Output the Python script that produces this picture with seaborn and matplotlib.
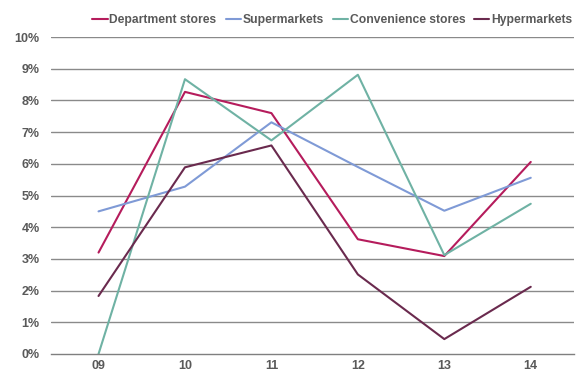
import matplotlib
matplotlib.use("Agg")
import matplotlib.pyplot as plt
import seaborn as sns
import pandas as pd
import numpy as np

# values (percent)
years = ["09", "10", "11", "12", "13", "14"]
department = [3.2, 8.27, 7.6, 3.62, 3.09, 6.06]
supermarkets = [4.5, 5.28, 7.31, 5.9, 4.52, 5.56]
convenience = [0.0, 8.67, 6.74, 8.81, 3.12, 4.74]
hypermarkets = [1.83, 5.89, 6.58, 2.51, 0.47, 2.12]

series_names = ["Department stores", "Supermarkets", "Convenience stores", "Hypermarkets"]
colors = ["#B51C5C", "#7F9AD6", "#6FB2A4", "#6A2A4E"]

rows = []
for name, vals in zip(series_names, [department, supermarkets, convenience, hypermarkets]):
    for i, v in enumerate(vals):
        rows.append({"x": i, "value": v, "series": name})
df = pd.DataFrame(rows)

sns.set_style("white")
plt.rcParams["font.family"] = ["Liberation Sans", "DejaVu Sans"]

fig = plt.figure(figsize=(5.76, 3.72), dpi=100)
ax = fig.add_axes([0.0885, 0.0484, 0.908, 0.852])

# grid lines first, behind the data
for y in range(1, 11):
    ax.axhline(y, color="#8a8a8a", lw=1.0, zorder=0)

sns.lineplot(data=df, x="x", y="value", hue="series", hue_order=series_names,
             palette=colors, lw=1.5, ax=ax, legend=True)

ax.set_xlim(-0.55, 5.5)
ax.set_ylim(0, 10)
ax.set_xticks(range(len(years)))
ax.set_xticklabels(years)
ax.set_xticks(np.arange(-0.5, 6, 1), minor=True)
ax.tick_params(axis="x", which="major", length=0, pad=4)
ax.tick_params(axis="x", which="minor", length=3, color="#7f7f7f", width=1, direction="out")
ax.set_yticks(range(0, 11))
ax.set_yticklabels([f"{v}%" for v in range(0, 11)])
ax.tick_params(axis="y", length=0, pad=8)
for lab in ax.get_xticklabels() + ax.get_yticklabels():
    lab.set_fontweight("bold")
    lab.set_color("#595959")
    lab.set_fontsize(9)
ax.set_xlabel("")
ax.set_ylabel("")

for s in ["top", "right", "left"]:
    ax.spines[s].set_visible(False)
ax.spines["bottom"].set_color("#7f7f7f")
ax.spines["bottom"].set_linewidth(1.0)

handles, labels = ax.get_legend_handles_labels()
leg = ax.legend(handles, labels, loc="center right", bbox_to_anchor=(0.997, 1.054),
                ncol=4, frameon=False, handlelength=1.25, handletextpad=0.15,
                columnspacing=0.75, borderaxespad=0, borderpad=0,
                prop={"weight": "bold", "size": 8.7})
for t in leg.get_texts():
    t.set_color("#595959")

fig.savefig("out.png", dpi=100)
